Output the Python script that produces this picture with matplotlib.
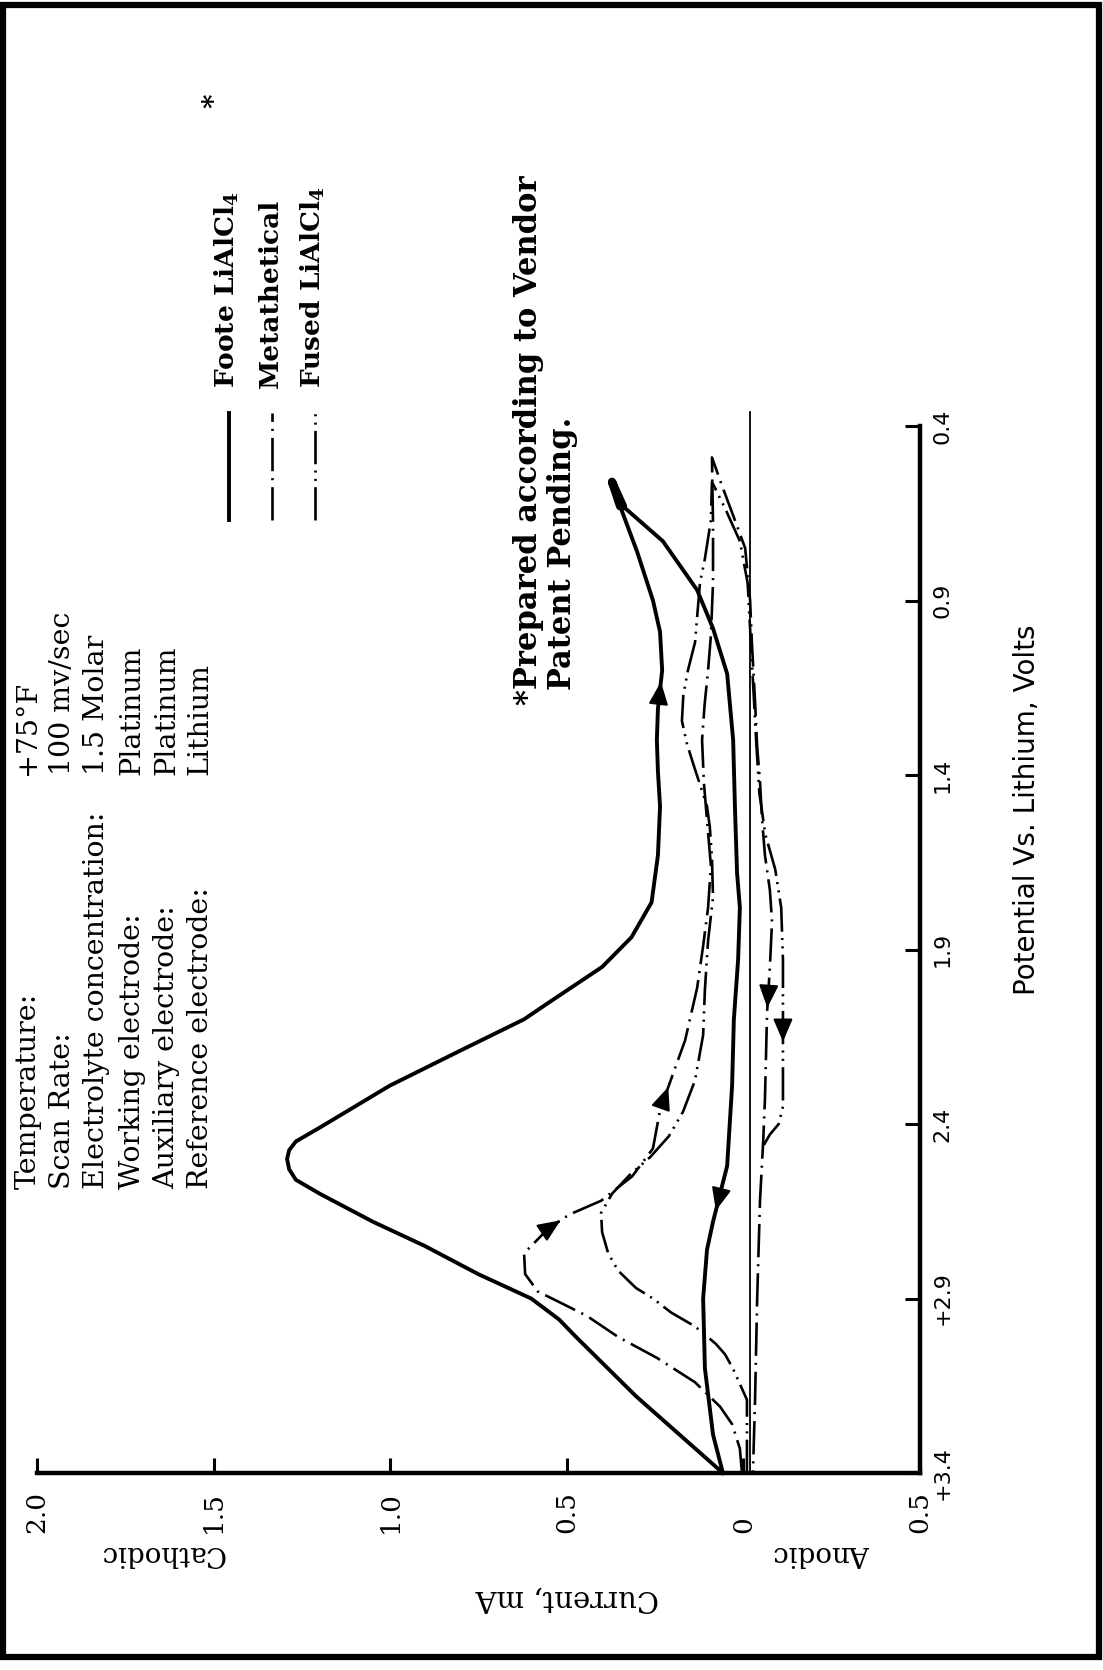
import matplotlib
matplotlib.use('Agg')
import matplotlib.pyplot as plt
from matplotlib.lines import Line2D
from matplotlib.patches import Rectangle

plt.rcParams['lines.scale_dashes'] = False
plt.rcParams['mathtext.fontset'] = 'dejavuserif'

# ---- data (current in mA, + = cathodic ; potential in V vs Li) ----
current_ticks = [2.0, 1.5, 1.0, 0.5, 0.0, -0.5]
current_labels = ['2.0', '1.5', '1.0', '0.5', '0', '0.5']
potential_ticks = [0.4, 0.9, 1.4, 1.9, 2.4, 2.9, 3.4]
potential_labels = ['0.4', '0.9', '1.4', '1.9', '2.4', '+2.9', '+3.4']

# Foote LiAlCl4 (forward sweep then return)
foote_i = [0.058, 0.304, 0.474, 0.522, 0.601, 0.751, 0.901, 1.049, 1.199, 1.267, 1.286, 1.292, 1.286,
           1.267, 1.199, 1.001, 0.802, 0.621, 0.548, 0.400, 0.317, 0.260, 0.242, 0.236, 0.242, 0.245,
           0.242, 0.230, 0.236, 0.256, 0.301, 0.349, 0.372,
           0.341, 0.228, 0.131, 0.086, 0.046, 0.029, 0.024, 0.018, 0.010, 0.015, 0.027, 0.032, 0.046,
           0.086, 0.103, 0.114, 0.109, 0.086, 0.058]
foote_v = [3.40, 3.18, 3.01, 2.96, 2.90, 2.83, 2.75, 2.68, 2.60, 2.56, 2.53, 2.50, 2.475,
           2.45, 2.41, 2.29, 2.19, 2.10, 2.05, 1.95, 1.865, 1.765, 1.63, 1.49, 1.39, 1.30,
           1.21, 1.10, 0.99, 0.90, 0.76, 0.63, 0.56,
           0.63, 0.73, 0.87, 0.98, 1.11, 1.30, 1.49, 1.68, 1.78, 1.93, 2.10, 2.29, 2.52,
           2.68, 2.76, 2.90, 3.10, 3.29, 3.40]

# Metathetical
meta_i = [0.004, 0.010, 0.032, 0.066, 0.137, 0.245, 0.355, 0.443, 0.522, 0.582, 0.618, 0.621, 0.601,
          0.553, 0.494, 0.403, 0.315, 0.256, 0.236, 0.197, 0.165, 0.131, 0.114, 0.100, 0.092, 0.103,
          0.112, 0.117, 0.110, 0.100, 0.092, 0.086, 0.086, 0.089,
          0.061, 0.024, -0.005, -0.019, -0.024, -0.033, -0.039, -0.047, -0.053, -0.061, -0.075,
          -0.081, -0.075, -0.067, -0.061, -0.056, -0.047, -0.039, -0.033, -0.027]
meta_v = [3.40, 3.33, 3.26, 3.21, 3.14, 3.07, 3.01, 2.95, 2.91, 2.88, 2.83, 2.77, 2.75,
          2.70, 2.66, 2.62, 2.55, 2.47, 2.36, 2.25, 2.16, 2.01, 1.89, 1.78, 1.66, 1.53,
          1.42, 1.30, 1.20, 1.10, 1.00, 0.85, 0.68, 0.49,
          0.57, 0.67, 0.75, 0.90, 1.02, 1.19, 1.32, 1.42, 1.53, 1.63, 1.73,
          1.82, 1.95, 2.08, 2.33, 2.45, 2.62, 2.90, 3.19, 3.40]

# Fused LiAlCl4
fused_i = [-0.010, -0.010, 0.030, 0.052, 0.078, 0.137, 0.205, 0.256, 0.304, 0.355, 0.383, 0.400, 0.403,
           0.372, 0.321, 0.264, 0.211, 0.171, 0.137, 0.114, 0.109, 0.100, 0.086, 0.089, 0.095, 0.103,
           0.143, 0.160, 0.174, 0.170, 0.157, 0.137, 0.123, 0.109, 0.092, 0.089,
           0.050, 0.010, -0.012, -0.020, -0.027, -0.036, -0.045, -0.062, -0.090, -0.107, -0.112,
           -0.112, -0.112, -0.100, -0.075, -0.058]
fused_v = [3.40, 3.19, 3.10, 3.06, 3.03, 2.98, 2.94, 2.90, 2.87, 2.82, 2.77, 2.71, 2.655,
           2.60, 2.545, 2.495, 2.435, 2.365, 2.275, 2.145, 2.015, 1.875, 1.75, 1.64, 1.55, 1.49,
           1.365, 1.31, 1.245, 1.17, 1.10, 1.02, 0.85, 0.78, 0.67, 0.56,
           0.64, 0.73, 0.85, 1.00, 1.13, 1.30, 1.45, 1.57, 1.67, 1.78, 1.93,
           2.19, 2.35, 2.40, 2.43, 2.46]

# arrow heads: (segment index, fraction along segment)
foote_arrows = [(26, 0.7), (45, 0.8)]
meta_arrows = [(13, 0.6), (18, 0.6), (46, 0.9)]
fused_arrows = [(46, 0.9)]

baseline_i = -0.02          # thin reference line (drawn a hair right of the 0 tick)
baseline_v = [0.36, 3.4]

series_names = ['Foote LiAlCl$_\\mathbf{4}$', 'Metathetical', 'Fused LiAlCl$_\\mathbf{4}$']
param_labels = ['Temperature:', 'Scan Rate:', 'Electrolyte concentration:', 'Working electrode:',
                'Auxiliary electrode:', 'Reference electrode:']
param_values = ['+75°F', '100 mv/sec', '1.5 Molar', 'Platinum', 'Platinum', 'Lithium']

META_LS = (0, (24, 5, 1.5, 5))
FUSED_LS = (0, (24, 4.5, 1.5, 4.5, 1.5, 4.5))

W, H = 1103, 1670
fig = plt.figure(figsize=(W / 100, H / 100), dpi=100)
ax = fig.add_axes([37 / W, 1 - 1473 / H, 883 / W, 1047 / H])
ax.set_xlim(2.0, -0.5)
ax.set_ylim(3.4, 0.4)

for s in ['top', 'left']:
    ax.spines[s].set_visible(False)
for s in ['bottom', 'right']:
    ax.spines[s].set_linewidth(3.2)

ax.tick_params(axis='x', direction='in', length=10.8, width=2.2, pad=43)
ax.set_xticks(current_ticks)
ax.set_xticklabels(current_labels, fontsize=19, family='DejaVu Serif')
for t in ax.get_xticklabels():
    t.set_rotation(90)
    t.set_rotation_mode('anchor')
    t.set_ha('left')
    t.set_va('center')

ax.yaxis.tick_right()
ax.tick_params(axis='y', direction='in', length=10.8, width=2.2, pad=9)
ax.set_yticks(potential_ticks)
ax.set_yticklabels(potential_labels, fontsize=16, family='DejaVu Sans')
for t in ax.get_yticklabels():
    t.set_rotation(90)
    t.set_ha('left')
    t.set_va('center')

ax.plot([baseline_i, baseline_i], baseline_v, color='black', lw=1.3, clip_on=False)

ax.plot(foote_i, foote_v, color='black', lw=2.8, solid_joinstyle='round', clip_on=False)
turn = foote_v.index(min(foote_v))
ax.plot(foote_i[turn - 1:turn + 2], foote_v[turn - 1:turn + 2], color='black', lw=6,
        solid_capstyle='round', clip_on=False)
ax.plot(meta_i, meta_v, color='black', lw=1.9, linestyle=META_LS, clip_on=False)
ax.plot(fused_i, fused_v, color='black', lw=1.9, linestyle=FUSED_LS, clip_on=False)


def add_arrows(xs, ys, marks):
    for k, f in marks:
        dx, dy = xs[k + 1] - xs[k], ys[k + 1] - ys[k]
        head = (xs[k] + f * dx, ys[k] + f * dy)
        tail = (xs[k] + (f - 0.1) * dx, ys[k] + (f - 0.1) * dy)
        ax.annotate('', xy=head, xytext=tail,
                    arrowprops=dict(arrowstyle='-|>,head_length=0.7,head_width=0.3',
                                    mutation_scale=20, color='black', lw=1.5,
                                    shrinkA=0, shrinkB=0))


add_arrows(foote_i, foote_v, foote_arrows)
add_arrows(meta_i, meta_v, meta_arrows)
add_arrows(fused_i, fused_v, fused_arrows)


# ---- page furniture placed in pixel positions (0,0 = top-left of the page) ----
def fx(x):
    return x / W


def fy(y):
    return 1 - y / H


def vtext(x, y, s, **kw):
    fig.text(fx(x), fy(y), s, rotation=90, rotation_mode='anchor', ha='left', va='center', **kw)


def htext(x, y, s, rot, **kw):
    fig.text(fx(x), fy(y), s, rotation=rot, ha='center', va='center', **kw)


fig.add_artist(Rectangle((fx(3), fy(1657)), 1096 / W, 1652 / H, fill=False, lw=4.5,
                         color='black', transform=fig.transFigure))

# legend
leg_x = [229, 272, 315]
leg_styles = ['-', META_LS, FUSED_LS]
leg_lw = [2.8, 1.9, 1.9]
for x, name, ls, lw in zip(leg_x, series_names, leg_styles, leg_lw):
    fig.add_artist(Line2D([fx(x), fx(x)], [fy(520), fy(413)], color='black', lw=lw,
                          linestyle=ls, transform=fig.transFigure))
    vtext(x - 2, 388, name, fontsize=19, family='DejaVu Serif', fontweight='bold')
vtext(215, 108, '*', fontsize=20, family='DejaVu Serif', fontweight='bold')

vtext(528, 705, '*Prepared according to Vendor', fontsize=22, family='DejaVu Serif', fontweight='bold')
vtext(562, 690, 'Patent Pending.', fontsize=22, family='DejaVu Serif', fontweight='bold')

# experiment conditions
cond_x = [28, 62, 97, 132, 167, 200]
for x, lab, val in zip(cond_x, param_labels, param_values):
    vtext(x, 1189, lab, fontsize=20.5, family='DejaVu Serif')
    vtext(x, 775, val, fontsize=20.5, family='DejaVu Serif')

# axis titles
htext(1027, 810, 'Potential Vs. Lithium, Volts', 90, fontsize=20, family='DejaVu Sans')
htext(162, 1553, 'Cathodic', 180, fontsize=20, family='DejaVu Serif')
htext(822, 1553, 'Anodic', 180, fontsize=20, family='DejaVu Serif')
htext(567, 1598, 'Current, mA', 180, fontsize=21, family='DejaVu Serif')

fig.savefig('out.png', dpi=100, facecolor='white')
